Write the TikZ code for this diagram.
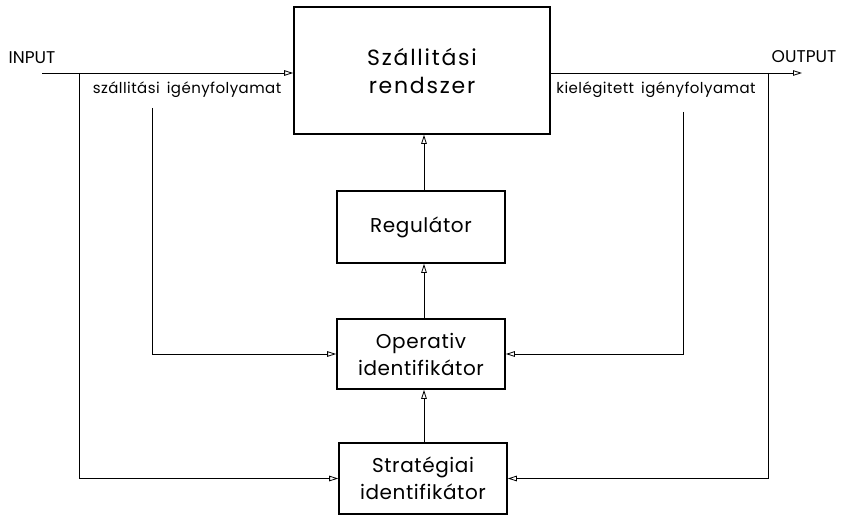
\documentclass[tikz,border=0pt]{standalone}
\usepackage{fontspec}
\newfontfamily\sysfont{Poppins}[LetterSpace=8]
\newfontfamily\boxtxtfont{Poppins}[LetterSpace=3]
\newfontfamily\lblfont{Poppins}[LetterSpace=3]
\newfontfamily\iofont{Poppins}[LetterSpace=0]
\usetikzlibrary{arrows.meta}
\begin{document}
\begin{tikzpicture}[x=1pt,y=-1pt,
  box/.style={draw,line width=1.6pt,inner sep=0pt,align=center},
  boxtxt/.style={font=\boxtxtfont\fontsize{20}{27}\selectfont},
  lbl/.style={inner sep=0pt,font=\lblfont\fontsize{15}{17}\selectfont},
  io/.style={inner sep=0pt,font=\iofont\fontsize{17}{19}\selectfont},
  flow/.style={line width=0.8pt,-{Triangle[open,length=9pt,width=5.5pt,line width=0.8pt]}}]
\useasboundingbox (0,0) rectangle (845,516);
\node[box,minimum width=256pt,minimum height=127pt,
      font=\sysfont\fontsize{22}{28}\selectfont] (sys) at (422,70.5) {Szállitási\\rendszer};
\node[box,boxtxt,minimum width=168pt,minimum height=72pt] (reg) at (421,227) {Regulátor};
\node[box,boxtxt,minimum width=168pt,minimum height=70pt] (op) at (421,354) {Operativ\\identifikátor};
\node[box,boxtxt,minimum width=168pt,minimum height=71pt] (strat) at (423,478.5) {Stratégiai\\identifikátor};

\node[io] (inlbl) at (32,58) {INPUT};
\node[io] (outlbl) at (804,57) {OUTPUT};
\node[lbl] (dem) at (187,90) {szállitási\hspace{7pt}igényfolyamat};
\node[lbl] (sat) at (656,90) {kielégitett\hspace{7pt}igényfolyamat};

\coordinate (in) at (42,73);
\coordinate (out) at (802,73);
\coordinate (lsplit) at (79,73);
\coordinate (rsplit) at (768,73);
\coordinate (ltop) at (152,108);
\coordinate (rtop) at (683,112);

\draw[flow] (in) -- (in -| sys.west);
\draw[flow] (out -| sys.east) -- (out);
\draw[flow] (lsplit) |- (strat.west);
\draw[flow] (rsplit) |- (strat.east);
\draw[flow] (ltop) |- (op.west);
\draw[flow] (rtop) |- (op.east);
\draw[flow] (strat.north -| 424,0) -- (op.south -| 424,0);
\draw[flow] (op.north -| 424,0) -- (reg.south -| 424,0);
\draw[flow] (reg.north -| 424,0) -- (sys.south -| 424,0);
\end{tikzpicture}
\end{document}
